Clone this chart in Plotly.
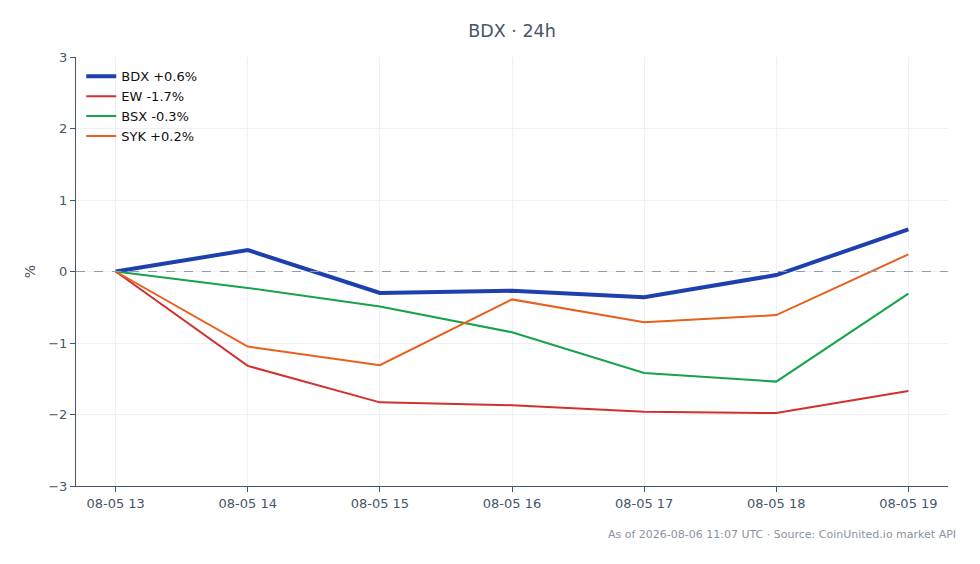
import plotly.graph_objects as go

hours = ["08-05 13", "08-05 14", "08-05 15", "08-05 16", "08-05 17", "08-05 18", "08-05 19"]

bdx = [0.0, 0.30, -0.30, -0.27, -0.36, -0.05, 0.59]
ew = [0.0, -1.32, -1.83, -1.87, -1.96, -1.98, -1.67]
bsx = [0.0, -0.23, -0.49, -0.85, -1.42, -1.54, -0.31]
syk = [0.0, -1.05, -1.31, -0.39, -0.71, -0.61, 0.24]

series = [
    ("BDX +0.6%", bdx, "#1e40af", 4),
    ("EW -1.7%", ew, "#d32f2f", 2),
    ("BSX -0.3%", bsx, "#16a34a", 2),
    ("SYK +0.2%", syk, "#e8601c", 2),
]

fig = go.Figure()
for name, values, color, width in series:
    fig.add_trace(
        go.Scatter(
            x=hours, y=values, name=name, mode="lines",
            line=dict(color=color, width=width),
        )
    )

fig.add_hline(y=0, line=dict(color="#8d9bb5", width=1, dash="dash"))

fig.update_layout(
    width=980, height=564,
    margin=dict(l=68, r=40, t=49, b=86),
    paper_bgcolor="white", plot_bgcolor="white",
    font=dict(family="DejaVu Sans", size=13, color="#475569"),
    title=dict(text="BDX · 24h", xref="paper", x=0.5, xanchor="center",
               y=1 - 23 / 564, yanchor="middle",
               font=dict(size=17.5, color="#475569")),
    legend=dict(x=0.006, y=0.99, xanchor="left", yanchor="top",
                bgcolor="rgba(255,255,255,0)", font=dict(size=13, color="#111111")),
    xaxis=dict(
        type="category", range=[-0.3, 6.3],
        showgrid=True, gridcolor="#eef0f4",
        showline=True, linecolor="#475569", linewidth=1,
        ticks="outside", tickcolor="#475569", ticklen=5,
        tickfont=dict(size=13),
    ),
    yaxis=dict(
        range=[-3, 3], dtick=1,
        title=dict(text="%", font=dict(size=14), standoff=9),
        showgrid=True, gridcolor="#eef0f4", zeroline=False,
        showline=True, linecolor="#475569", linewidth=1,
        ticks="outside", tickcolor="#475569", ticklen=5,
        tickfont=dict(size=13),
    ),
    annotations=[
        dict(text="As of 2026-08-06 11:07 UTC · Source: CoinUnited.io market API",
             xref="paper", yref="paper", x=1.011, y=-0.094,
             xanchor="right", yanchor="top", showarrow=False,
             font=dict(size=11, color="#8a93a0")),
    ],
)

fig.write_html("out.html")
